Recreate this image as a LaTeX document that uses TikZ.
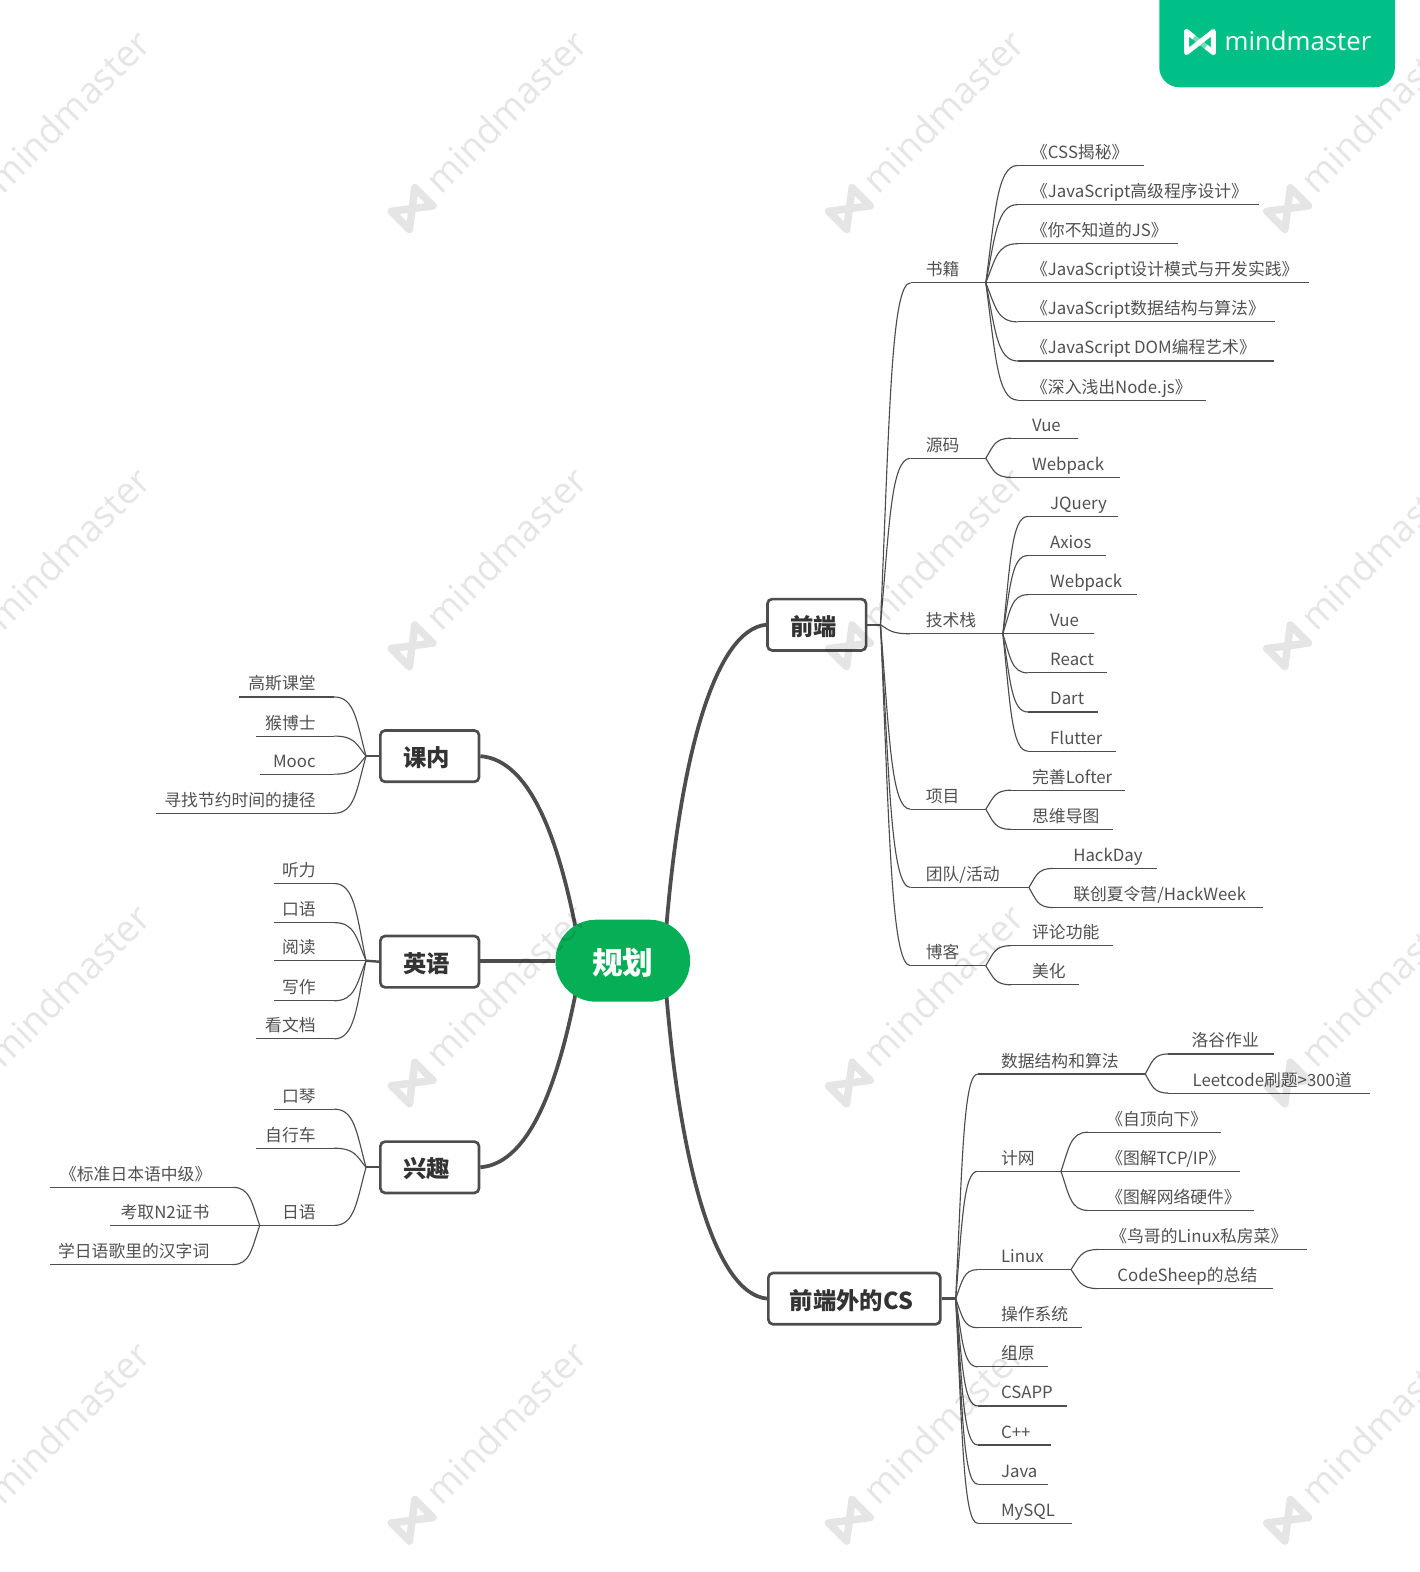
\documentclass[tikz,border=0pt]{standalone}
\usepackage{fontspec}
\setmainfont{Noto Sans CJK SC}
\newfontfamily\wmfont{Open Sans}
\usetikzlibrary{calc,backgrounds}
\definecolor{linec}{HTML}{4D4D4D}
\definecolor{textc}{HTML}{505050}
\definecolor{rootc}{HTML}{06AF55}
\definecolor{bannerc}{HTML}{00C087}
\tikzset{
  lbl/.style={inner sep=0pt,text=textc,font=\fontsize{12.6}{14}\selectfont},
  boxn/.style={draw=linec,line width=2pt,fill=white,rounded corners=3.5pt,minimum height=38.5pt,inner sep=0pt,text=black!80,font=\bfseries\fontsize{17.5}{20}\selectfont},
  rootn/.style={fill=rootc,rounded corners=30.5pt,minimum width=101pt,minimum height=61.5pt,inner sep=0pt,text=white,font=\bfseries\fontsize{23}{26}\selectfont},
  thickc/.style={draw=linec,line width=2.8pt},
  stemc/.style={draw=linec,line width=1.8pt},
  thinc/.style={draw=linec,line width=.85pt}
}
\newcommand\boxtext[1]{\raisebox{-7.8pt}[10pt][10pt]{#1\kern4.5pt}}
% \branch[anchor]{name}{parent}{curve end x}{y}{line end x}{text x}{text}
\newcommand\conn[2]{%
  \begin{scope}[on background layer]
  \draw[thinc] let \p1=(#1),\p2=(#2) in (\p1) .. controls ({\x1+0.3*(\x2-\x1)},{\y1+0.6*(\y2-\y1)}) and ({\x1+0.35*(\x2-\x1)},\y2) .. (\p2);
  \end{scope}}
\newcommand\branch[8][west]{%
  \coordinate (#2-a) at (#4,#5);
  \coordinate (#2-b) at (#6,#5);
  \node[lbl,anchor=base #1] (#2) at (#7,#5-7) {#8};
  \conn{#3}{#2-a}
  \draw[thinc] (#2-a) -- (#2-b);}
\newcommand\mmlogo[2]{% colour, stroke
  \draw[draw=#1,line width=#2,line join=round,line cap=round] (-1,-.8) -- (-1,.8) -- (1,-.8) -- (1,.8) -- cycle;}
\begin{document}
\begin{tikzpicture}[x=0.7521pt,y=-0.7521pt]
\clip (0,0) rectangle (1416,1567.6);
\useasboundingbox (0,0) rectangle (1416,1567.6);
% banner
\fill[bannerc,rounded corners=15pt] (1156,-30) rectangle (1391,87);
\begin{scope}[shift={(1196.6,41.9)},x=10.1pt,y=-9.9pt,line width=3.75pt,line cap=round,line join=round]
  \draw[white] (-1,-.8) -- (-1,.8) -- (1,-.8) -- (1,.8);
  \draw[white,line cap=butt] (1,.8) -- (.45,.36);
  \draw[white,line cap=butt] (-1,-.8) -- (-.45,-.36);
  \draw[white,opacity=.45,line cap=butt] (-.45,-.36) -- (.45,.36);
\end{scope}
\node[anchor=west,inner sep=0pt,text=white,font=\wmfont\fontsize{19.3}{20}\selectfont] (bannertext) at (1221,41) {mindmaster};
% main nodes
\node[rootn] (root) at (621,958) {\raisebox{-10pt}[12pt][12pt]{规划}};
\node[boxn,minimum width=74pt] (fe) at (814.5,623) {\boxtext{前端}};
\node[boxn,minimum width=129pt] (cs) at (852,1295) {\boxtext{前端外的CS}};
\node[boxn,minimum width=74pt] (kn) at (428.5,754) {\boxtext{课内}};
\node[boxn,minimum width=74pt] (en) at (428.5,959) {\boxtext{英语}};
\node[boxn,minimum width=74pt] (xq) at (428.5,1164) {\boxtext{兴趣}};
\coordinate (rootR) at (662,958);
\coordinate (rootL) at (580,958);
\coordinate (feJ) at (878,623);
\coordinate (csJ) at (953,1295);
\coordinate (knJ) at (365,754);
\coordinate (enJ) at (365,958);
\coordinate (xqJ) at (365,1164);
\begin{scope}[on background layer]
  \draw[thickc] (rootR) .. controls (675,760) and (712,628) .. (fe.west);
  \draw[thickc] (rootR) .. controls (675,1155) and (712,1290) .. (cs.west);
  \draw[thickc] (rootL) .. controls (560,840) and (530,758) .. (kn.east);
  \draw[thickc,line width=3pt] (root.west) -- (root.west -| en.east);
  \draw[thickc] (rootL) .. controls (560,1075) and (530,1160) .. (xq.east);
  \draw[stemc] (fe.east) -- (feJ);
  \draw[stemc] (cs.east) -- (csJ);
  \draw[stemc] (kn.west) -- (knJ);
  \draw[stemc] (en.west) -- (enJ);
  \draw[stemc] (xq.west) -- (xqJ);
\end{scope}
% frontend
\branch{sj}{feJ}{908}{282}{983}{923}{书籍}
\branch{s1}{sj-b}{1015}{165}{1141}{1028}{《CSS揭秘》}
\branch{s2}{sj-b}{1015}{204}{1255}{1028}{《JavaScript高级程序设计》}
\branch{s3}{sj-b}{1015}{243}{1175}{1028}{《你不知道的JS》}
\branch{s4}{sj-b}{1015}{282}{1305}{1028}{《JavaScript设计模式与开发实践》}
\branch{s5}{sj-b}{1015}{321}{1271}{1028}{《JavaScript数据结构与算法》}
\branch{s6}{sj-b}{1015}{360}{1270}{1028}{《JavaScript DOM编程艺术》}
\branch{s7}{sj-b}{1015}{399}{1203}{1028}{《深入浅出Node.js》}
\branch{ym}{feJ}{908}{457}{983}{923}{源码}
\branch{y1}{ym-b}{1008}{437}{1075}{1029}{Vue}
\branch{y2}{ym-b}{1008}{476}{1117}{1029}{Webpack}
\branch{js}{feJ}{908}{632}{1000}{923}{技术栈}
\branch{j1}{js-b}{1025}{515}{1115}{1047}{JQuery}
\branch{j2}{js-b}{1025}{554}{1103}{1047}{Axios}
\branch{j3}{js-b}{1025}{593}{1134}{1047}{Webpack}
\branch{j4}{js-b}{1025}{632}{1091}{1047}{Vue}
\branch{j5}{js-b}{1025}{671}{1104}{1047}{React}
\branch{j6}{js-b}{1025}{710}{1095}{1047}{Dart}
\branch{j7}{js-b}{1025}{749}{1113}{1047}{Flutter}
\branch{xm}{feJ}{908}{807}{983}{923}{项目}
\branch{x1}{xm-b}{1008}{788}{1122}{1029}{完善Lofter}
\branch{x2}{xm-b}{1008}{827}{1110}{1029}{思维导图}
\branch{td}{feJ}{908}{885}{1026}{923}{团队/活动}
\branch{t1}{td-b}{1050}{866}{1154}{1070}{HackDay}
\branch{t2}{td-b}{1050}{905}{1259}{1070}{联创夏令营/HackWeek}
\branch{bk}{feJ}{908}{963}{983}{923}{博客}
\branch{b1}{bk-b}{1008}{943}{1110}{1029}{评论功能}
\branch{b2}{bk-b}{1008}{982}{1076}{1029}{美化}
% CS
\branch{da}{csJ}{975}{1071}{1142}{998}{数据结构和算法}
\branch{d1}{da-b}{1165}{1051}{1270}{1188}{洛谷作业}
\branch{d2}{da-b}{1165}{1090}{1366}{1189}{Leetcode刷题>300道}
\branch{jw}{csJ}{975}{1168}{1058}{998}{计网}
\branch{w1}{jw-b}{1085}{1129}{1218}{1103}{《自顶向下》}
\branch{w2}{jw-b}{1085}{1168}{1237}{1103}{《图解TCP/IP》}
\branch{w3}{jw-b}{1085}{1207}{1250}{1103}{《图解网络硬件》}
\branch{lx}{csJ}{975}{1266}{1068}{998}{Linux}
\branch{l1}{lx-b}{1095}{1246}{1303}{1107}{《鸟哥的Linux私房菜》}
\branch{l2}{lx-b}{1095}{1285}{1269}{1114}{CodeSheep的总结}
\branch{os}{csJ}{975}{1324}{1079}{998}{操作系统}
\branch{zy}{csJ}{975}{1363}{1045}{998}{组原}
\branch{ca}{csJ}{975}{1402}{1064}{998}{CSAPP}
\branch{cp}{csJ}{975}{1441}{1048}{998}{C++}
\branch{ja}{csJ}{975}{1480}{1045}{998}{Java}
\branch{my}{csJ}{975}{1519}{1069}{998}{MySQL}
% left
\branch[east]{k1}{knJ}{333}{695}{238}{315}{高斯课堂}
\branch[east]{k2}{knJ}{333}{734}{255}{315}{猴博士}
\branch[east]{k3}{knJ}{333}{772}{259}{315}{Mooc}
\branch[east]{k4}{knJ}{333}{811}{156}{315}{寻找节约时间的捷径}
\branch[east]{e1}{enJ}{333}{881}{273}{315}{听力}
\branch[east]{e2}{enJ}{333}{920}{273}{315}{口语}
\branch[east]{e3}{enJ}{333}{958}{273}{315}{阅读}
\branch[east]{e4}{enJ}{333}{998}{273}{315}{写作}
\branch[east]{e5}{enJ}{333}{1036}{255}{315}{看文档}
\branch[east]{q1}{xqJ}{333}{1106}{273}{315}{口琴}
\branch[east]{q2}{xqJ}{333}{1145}{255}{315}{自行车}
\branch[east]{ry}{xqJ}{333}{1222}{259}{315}{日语}
\branch[east]{r1}{ry-b}{232}{1184}{50}{211}{《标准日本语中级》}
\branch[east]{r2}{ry-b}{232}{1222}{110}{209}{考取N2证书}
\branch[east]{r3}{ry-b}{232}{1261}{50}{209}{学日语歌里的汉字词}
% watermarks
\begin{scope}[opacity=.1]
\foreach \wx in {-25,411,847,1284}{
  \foreach \wy in {208,644,1080,1516}{
    \begin{scope}[shift={(\wx,\wy)},rotate=45,x=12.5pt,y=-12pt]
      \mmlogo{black}{5.6pt}
    \end{scope}
    \node[rotate=45,anchor=west,inner sep=0pt,text=black,font=\wmfont\fontsize{27.7}{30}\selectfont] at (\wx+19,\wy-23) {mindmaster};
  }
}
\end{scope}
\end{tikzpicture}
\end{document}
